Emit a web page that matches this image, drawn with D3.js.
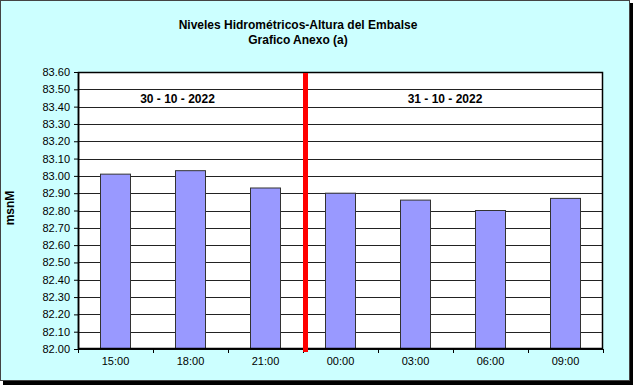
<!DOCTYPE html>
<html>
<head>
<meta charset="utf-8">
<script src="https://cdn.jsdelivr.net/npm/d3@7"></script>
<style>
  body { margin: 0; background: #fff; }
  svg { display: block; font-family: Arial, "Liberation Sans", sans-serif; }
</style>
</head>
<body>
<div id="chart"></div>
<script>
// data
var horas = ["15:00", "18:00", "21:00", "00:00", "03:00", "06:00", "09:00"];
var alturas = [83.01, 83.03, 82.93, 82.90, 82.86, 82.80, 82.87];
var yTicks = [82.0, 82.1, 82.2, 82.3, 82.4, 82.5, 82.6, 82.7, 82.8, 82.9, 83.0, 83.1, 83.2, 83.3, 83.4, 83.5, 83.6];
var fechas = ["30 - 10 - 2022", "31 - 10 - 2022"];
var corte = 3; // index where the day changes

var W = 633, H = 385;
var margin = {top: 72, right: 30, bottom: 36, left: 78},
    width = 603 - margin.left,
    height = 349 - margin.top;

var svg = d3.select("#chart").append("svg")
    .attr("width", W)
    .attr("height", H);

// background + border with shadow
svg.append("rect").attr("x", 3).attr("y", 3).attr("width", W - 3).attr("height", H - 3).attr("fill", "#000");
svg.append("rect")
    .attr("x", 0.5).attr("y", 0.5)
    .attr("width", 629).attr("height", 380)
    .attr("fill", "#ccffff")
    .attr("stroke", "#444");

svg.append("text")
    .attr("x", 298).attr("y", 29)
    .attr("text-anchor", "middle")
    .attr("font-size", "12px").attr("font-weight", "bold")
    .text("Niveles Hidrométricos-Altura del Embalse");
svg.append("text")
    .attr("x", 298).attr("y", 44)
    .attr("text-anchor", "middle")
    .attr("font-size", "12px").attr("font-weight", "bold")
    .text("Grafico Anexo (a)");

svg.append("text")
    .attr("transform", "translate(14,208) rotate(-90)")
    .attr("text-anchor", "middle")
    .attr("font-size", "12px").attr("font-weight", "bold")
    .text("msnM");

var g = svg.append("g")
    .attr("transform", "translate(" + margin.left + "," + margin.top + ")");

var x = d3.scaleBand().domain(horas).range([0, width]).paddingInner(0.6).paddingOuter(0.3);
var step = width / horas.length;
var y = d3.scaleLinear().domain([82.0, 83.6]).range([height, 0]);

g.append("rect")
    .attr("width", width).attr("height", height)
    .attr("fill", "#fff");

// grid
g.selectAll(".grid")
  .data(yTicks)
  .enter().append("line")
    .attr("class", "grid")
    .attr("x1", 0).attr("x2", width)
    .attr("y1", function(d) { return Math.round(y(d)) + 0.5; })
    .attr("y2", function(d) { return Math.round(y(d)) + 0.5; })
    .attr("stroke", "#222").attr("stroke-width", 1);

g.selectAll(".bar")
  .data(alturas)
  .enter().append("rect")
    .attr("class", "bar")
    .attr("x", function(d, i) { return x(horas[i]); })
    .attr("y", function(d) { return y(d); })
    .attr("width", x.bandwidth())
    .attr("height", function(d) { return height - y(d); })
    .attr("fill", "#9999ff")
    .attr("stroke", "#333")
    .attr("stroke-width", 1);

g.append("rect")
    .attr("x", 0.5).attr("y", 0.5)
    .attr("width", width - 1).attr("height", height - 1)
    .attr("fill", "none").attr("stroke", "#000").attr("stroke-width", 1.5);

// y axis
var yAxis = g.append("g")
    .call(d3.axisLeft(y).tickValues(yTicks).tickFormat(d3.format(".2f")).tickSize(4).tickSizeOuter(0));
yAxis.select(".domain").attr("stroke", "#000").attr("stroke-width", 1.5);
yAxis.selectAll("text").attr("font-size", "11px").attr("font-family", "Arial, 'Liberation Sans', sans-serif").attr("fill", "#000").attr("dx", "-1");

// x axis: ticks between categories
var xAxis = g.append("g")
    .attr("transform", "translate(0," + height + ")");
xAxis.append("line").attr("x1", 0).attr("x2", width).attr("stroke", "#000").attr("stroke-width", 1.5);
xAxis.selectAll(".tk")
  .data(d3.range(horas.length + 1))
  .enter().append("line")
    .attr("x1", function(i) { return Math.round(i * step) + 0.5; })
    .attr("x2", function(i) { return Math.round(i * step) + 0.5; })
    .attr("y1", 0).attr("y2", 4)
    .attr("stroke", "#000");
xAxis.selectAll(".lbl")
  .data(horas)
  .enter().append("text")
    .attr("x", function(d) { return x(d) + x.bandwidth() / 2; })
    .attr("y", 16)
    .attr("text-anchor", "middle")
    .attr("font-size", "11px")
    .text(function(d) { return d; });

// day separator
g.append("rect")
    .attr("x", corte * step)
    .attr("y", 1)
    .attr("width", 5)
    .attr("height", height + 2)
    .attr("fill", "#ff0000");

g.selectAll(".fecha")
  .data(fechas)
  .enter().append("text")
    .attr("class", "fecha")
    .attr("x", function(d, i) { return i === 0 ? (corte * step) / 2 - 13 : corte * step + (width - corte * step) / 2 - 8; })
    .attr("y", 31)
    .attr("text-anchor", "middle")
    .attr("font-size", "12px").attr("font-weight", "bold")
    .text(function(d) { return d; });
</script>
</body>
</html>
